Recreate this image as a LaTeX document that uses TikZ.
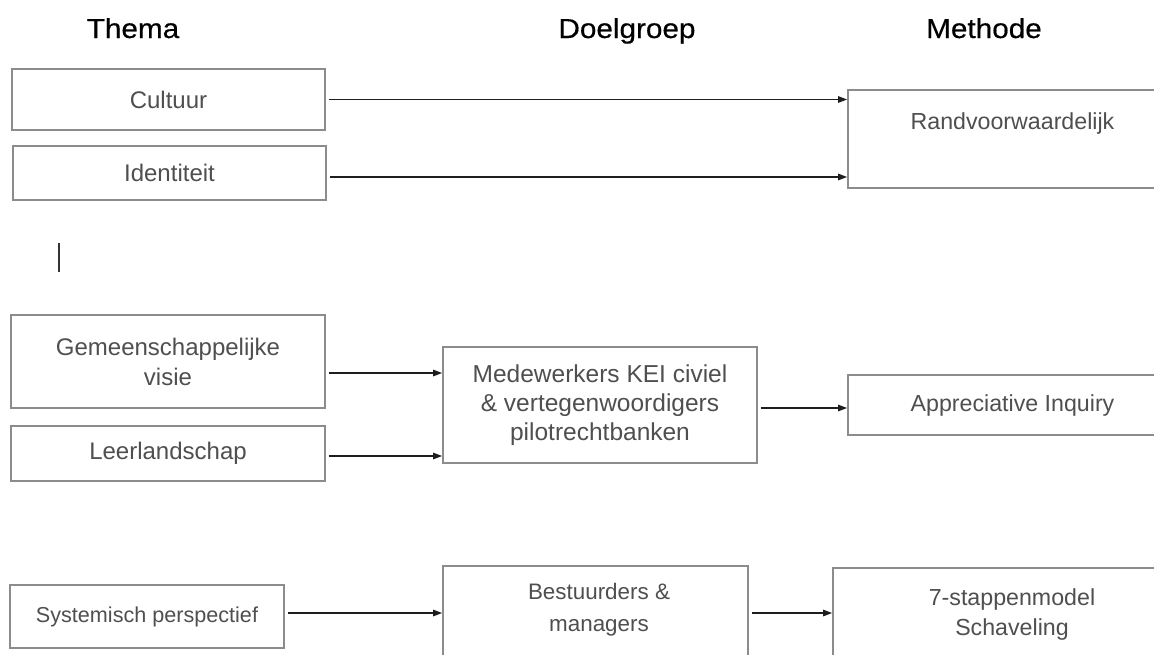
\documentclass[tikz,border=0pt]{standalone}
\usepackage{graphicx}
\usepackage{fontspec}
\setmainfont{Liberation Sans}
\newfontfamily\hdrfont[FakeBold=0.4]{Liberation Sans}
\usetikzlibrary{arrows.meta}
\definecolor{boxgray}{HTML}{8C8C8C}
\definecolor{txtgray}{HTML}{4F4F4F}
\definecolor{arrowcol}{HTML}{1E1E1E}
\tikzset{
  box/.style={draw=boxgray, line width=1.8pt, inner sep=0pt},
  txt/.style={text=txtgray, align=center, inner sep=0pt, font=\fontsize{24}{30}\selectfont},
  txtr/.style={text=txtgray, align=center, inner sep=0pt, font=\fontsize{23.2}{30}\selectfont},
  txtb/.style={text=txtgray, align=center, inner sep=0pt, font=\fontsize{22.4}{32}\selectfont},
  hdr/.style={text=black, inner sep=0pt, anchor=base, font=\hdrfont\fontsize{27.5}{32}\selectfont},
  arr/.style={draw=arrowcol, line width=1.2pt, -{Triangle[length=9pt,width=6.5pt]}, shorten <=3pt}
}
\begin{document}
\begin{tikzpicture}[x=1pt,y=-1pt]
\fill[white] (0,0) rectangle (1154,654);
\clip (0,0) rectangle (1154,654);
% headers
\node[hdr] (hthema) at (133,38) {\scalebox{1.08}[1]{Thema}};
\node[hdr] (hdoel) at (627,38) {\scalebox{1.08}[1]{Doelgroep}};
\node[hdr] (hmeth) at (984,38) {\scalebox{1.08}[1]{Methode}};
% boxes
\node[box, txt, minimum width=313pt, minimum height=61pt] (cul) at (168.5,99.5) {Cultuur};
\node[box, txt, minimum width=313pt, minimum height=54pt] (ide) at (169.5,173) {Identiteit};
\node[box, minimum width=329pt, minimum height=98pt] (ran) at (1012.5,139) {};
\node[txtr, anchor=north] (rant) at (1012.5,112) {Randvoorwaardelijk};
\node[box, txt, minimum width=314pt, minimum height=93pt] (gem) at (168,361.5) {Gemeenschappelijke\\visie};
\node[box, txt, minimum width=314pt, minimum height=55pt] (lee) at (168,453.5) {Leerlandschap};
\node[box, txt, minimum width=314pt, minimum height=116pt, font=\fontsize{24.5}{29}\selectfont] (med) at (600,405) {Medewerkers KEI civiel\\\& vertegenwoordigers\\pilotrechtbanken};
\node[box, txtr, minimum width=329pt, minimum height=60pt] (app) at (1012.5,405) {Appreciative Inquiry};
\node[box, txtb, minimum width=274pt, minimum height=63pt, font=\fontsize{21.6}{30}\selectfont] (sys) at (147,616.5) {Systemisch perspectief};
\node[box, minimum width=305pt, minimum height=100pt] (bes) at (595.5,616) {};
\node[txtb, anchor=north] (best) at (599,583) {Bestuurders \&\\managers};
\node[box, minimum width=358pt, minimum height=100pt] (sev) at (1012,618) {};
\node[txtr, anchor=north] (sevt) at (1012,588) {7-stappenmodel\\Schaveling};
% stray bar
\coordinate (bar1) at (59,243);
\coordinate (bar2) at (59,272);
\draw[line width=1.5pt, draw=black!80] (bar1) -- (bar2);
% arrows
\draw[arr] (cul.east) -- (cul.east -| ran.west);
\draw[arr] ([yshift=-4pt]ide.east) -- ([yshift=-4pt]ide.east -| ran.west);
\draw[arr] ([yshift=-11.5pt]gem.east) -- ([yshift=-11.5pt]gem.east -| med.west);
\draw[arr] ([yshift=-2.5pt]lee.east) -- ([yshift=-2.5pt]lee.east -| med.west);
\draw[arr] ([yshift=-3pt]med.east) -- ([yshift=-3pt]med.east -| app.west);
\draw[arr] ([yshift=3.5pt]sys.east) -- ([yshift=3.5pt]sys.east -| bes.west);
\draw[arr] ([yshift=3.5pt]sys.east -| bes.east) -- ([yshift=3.5pt]sys.east -| sev.west);
\end{tikzpicture}
\end{document}
